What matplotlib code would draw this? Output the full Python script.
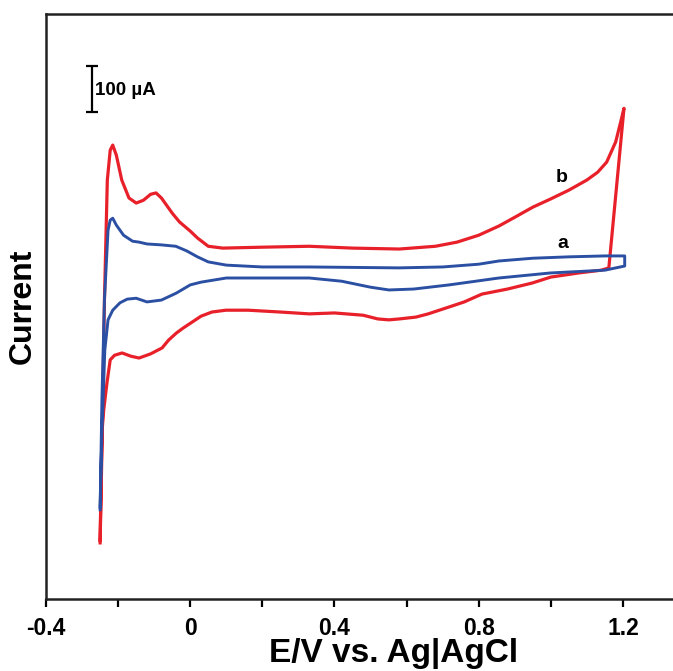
import matplotlib
matplotlib.use("Agg")
import matplotlib.pyplot as plt

# ── Data (E in V vs Ag|AgCl, I in µA) ───────────────────────────────────
# curve b (red): anodic sweep, then cathodic sweep back
E_b_fwd = [-0.250, -0.245, -0.238, -0.230, -0.222, -0.215, -0.205, -0.190,
           -0.170, -0.150, -0.130, -0.110, -0.095, -0.080, -0.050, -0.030,
           0.000, 0.020, 0.050, 0.090, 0.200, 0.330, 0.450, 0.580, 0.680,
           0.740, 0.800, 0.856, 0.900, 0.950, 1.000, 1.050, 1.100, 1.130,
           1.155, 1.180, 1.195, 1.203]
I_b_fwd = [-615, -413, -87, 174, 239, 250, 228, 174,
           135, 124, 130, 143, 146, 135, 102, 83,
           63, 48, 30, 26, 28, 30, 26, 24, 30,
           39, 54, 74, 93, 115, 133, 152, 174, 191,
           213, 257, 304, 330]
E_b_rev = [1.161, 1.140, 1.078, 1.000, 0.948, 0.880, 0.809, 0.760, 0.718,
           0.660, 0.626, 0.580, 0.551, 0.520, 0.480, 0.400, 0.330, 0.250,
           0.160, 0.099, 0.060, 0.030, 0.005, -0.020, -0.039, -0.060,
           -0.078, -0.110, -0.142, -0.165, -0.189, -0.210, -0.222, -0.231,
           -0.240, -0.245, -0.250]
I_b_rev = [-17, -22, -28, -37, -50, -63, -74, -91, -102,
           -117, -124, -128, -130, -128, -120, -115, -117, -113,
           -109, -109, -113, -122, -135, -148, -159, -174,
           -191, -204, -213, -209, -202, -207, -217, -267,
           -326, -376, -609]

# curve a (blue)
E_a_fwd = [-0.250, -0.245, -0.238, -0.228, -0.222, -0.215, -0.205, -0.185,
           -0.160, -0.142, -0.120, -0.080, -0.040, -0.010, 0.020, 0.050,
           0.100, 0.200, 0.330, 0.579, 0.700, 0.800, 0.856, 0.950, 1.050,
           1.150, 1.205]
I_a_fwd = [-543, -304, -87, 65, 87, 91, 76, 54,
           41, 39, 35, 33, 30, 20, 7, -4,
           -11, -15, -15, -17, -15, -9, -2, 4, 7,
           9, 9]
E_a_rev = [1.205, 1.150, 1.000, 0.856, 0.718, 0.620, 0.551, 0.500, 0.420,
           0.330, 0.200, 0.100, 0.030, 0.000, -0.039, -0.080, -0.120,
           -0.150, -0.175, -0.195, -0.215, -0.228, -0.237, -0.245, -0.250]
I_a_rev = [-13, -22, -28, -39, -54, -63, -65, -59, -46,
           -39, -39, -39, -48, -54, -72, -87, -91,
           -83, -85, -93, -109, -130, -196, -376, -537]

x_ticks = [-0.4, -0.2, 0.0, 0.2, 0.4, 0.6, 0.8, 1.0, 1.2]
x_ticklabels = ["-0.4", "", "0", "", "0.4", "", "0.8", "", "1.2"]

RED = "#E8202A"
BLUE = "#2B4FA2"

plt.rcParams["font.family"] = ["Liberation Sans", "DejaVu Sans"]
plt.rcParams["font.weight"] = "bold"

fig = plt.figure(figsize=(6.73, 6.71), dpi=100)
# axes runs past the right edge of the picture, as in the reference crop
ax = fig.add_axes([0.0684, 0.1073, 0.9643, 0.8718])

ax.plot(E_b_fwd + E_b_rev, I_b_fwd + I_b_rev, color=RED, lw=2.3,
        solid_joinstyle="round")
ax.plot(E_a_fwd + E_a_rev, I_a_fwd + I_a_rev, color=BLUE, lw=2.1,
        solid_joinstyle="round")

ax.text(1.031, 180, "b", fontsize=14, fontweight="bold", ha="center", va="center")
ax.text(1.034, 37, "a", fontsize=14, fontweight="bold", ha="center", va="center")

# 100 µA scale bar
ax.errorbar([-0.273], [372], yerr=[50], color="black", capsize=4,
            elinewidth=1.6, capthick=1.6)
ax.text(-0.264, 369, "100 µA", fontsize=13.5, fontweight="bold",
        ha="left", va="center")

ax.set_xlim(-0.4, 1.4)
ax.set_ylim(-737, 535)
ax.set_xticks(x_ticks)
ax.set_xticklabels(x_ticklabels)
ax.set_yticks([])
ax.tick_params(axis="x", direction="out", length=6, width=1.6,
               labelsize=16.5, pad=7)
for s in ax.spines.values():
    s.set_linewidth(1.8)
    s.set_color("#222222")

ax.set_xlabel("E/V vs. Ag|AgCl", fontsize=24, fontweight="bold")
ax.xaxis.set_label_coords(0.5354, -0.067)
ax.set_ylabel("Current", fontsize=23, fontweight="bold", labelpad=6)

fig.savefig("out.png", dpi=100)
